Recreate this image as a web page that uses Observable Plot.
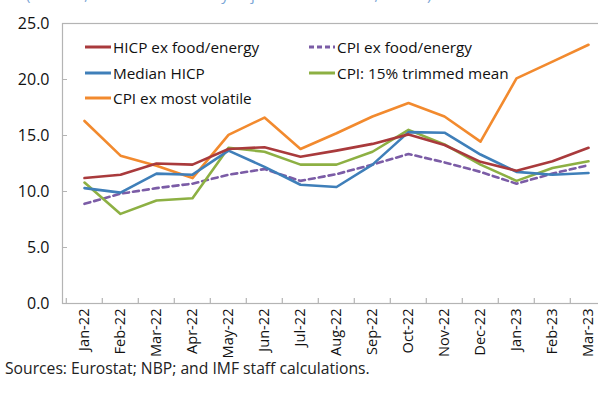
<!DOCTYPE html>
<html>
<head>
<meta charset="utf-8">
<script src="https://cdn.jsdelivr.net/npm/d3@7"></script>
<script src="https://cdn.jsdelivr.net/npm/@observablehq/plot@0.6"></script>
<style>
  html, body { margin: 0; padding: 0; background: #fff; overflow: hidden; width: 598px; height: 403px; }
  body { font-family: "Open Sans", "Noto Sans", sans-serif; }
  #wrap { position: relative; width: 598px; height: 403px; overflow: hidden; }
  #subtitle { position: absolute; left: 26px; top: -16px; font-size: 15px; color: #7aa6d6; white-space: nowrap; }
  #chart { position: absolute; left: 0; top: 0; width: 598px; height: 370px; overflow: hidden; }
  #chart svg { max-width: none !important; height: 356px !important; overflow: visible; }
  #legend { position: absolute; left: 0; top: 0; font-size: 15.3px; color: #111; }
  .item { position: absolute; white-space: nowrap; display: flex; align-items: center; height: 20px; }
  .item svg { margin-right: 2px; }
  #caption { position: absolute; left: 5px; top: 358px; font-size: 15.7px; line-height: 21px; color: #222; white-space: nowrap; }
</style>
</head>
<body>
<div id="wrap">
<div id="subtitle">(Percent; 3-month seasonally-adjusted annualized; 3mma)</div>
<div id="chart"></div>
<div id="legend"></div>
<div id="caption">Sources: Eurostat; NBP; and IMF staff calculations.</div>
</div>
<script>
const months = ["Jan-22","Feb-22","Mar-22","Apr-22","May-22","Jun-22","Jul-22","Aug-22","Sep-22","Oct-22","Nov-22","Dec-22","Jan-23","Feb-23","Mar-23"];
const hicpExFoodEnergy = [11.2, 11.5, 12.5, 12.4, 13.8, 13.95, 13.1, 13.65, 14.25, 15.1, 14.15, 12.65, 11.85, 12.7, 13.9];
const cpiExFoodEnergy  = [8.9, 9.8, 10.3, 10.7, 11.5, 12.0, 10.95, 11.55, 12.4, 13.35, 12.6, 11.75, 10.7, 11.6, 12.35];
const medianHicp       = [10.3, 9.9, 11.6, 11.5, 13.65, 12.2, 10.6, 10.4, 12.4, 15.3, 15.25, 13.3, 11.75, 11.5, 11.65];
const cpiTrimmedMean   = [10.8, 8.0, 9.2, 9.4, 13.9, 13.55, 12.4, 12.4, 13.55, 15.5, 14.2, 12.4, 10.95, 12.1, 12.7];
const cpiExMostVolatile= [16.3, 13.2, 12.3, 11.2, 15.05, 16.6, 13.8, 15.2, 16.7, 17.9, 16.7, 14.45, 20.1, 21.6, 23.1];
const targetLevel = [2.5];
const toleranceBand = [1.5, 3.5];
const yTicks = [0, 5, 10, 15, 20, 25];

const series = [
  {name: "HICP ex food/energy", values: hicpExFoodEnergy, color: "#a93a3c", dash: null},
  {name: "CPI ex food/energy", values: cpiExFoodEnergy, color: "#7b5ca6", dash: "6,4"},
  {name: "Median HICP", values: medianHicp, color: "#3f7fb9", dash: null},
  {name: "CPI: 15% trimmed mean", values: cpiTrimmedMean, color: "#8db043", dash: null},
  {name: "CPI ex most volatile", values: cpiExMostVolatile, color: "#f28a2e", dash: null}
];
const drawOrder = [4, 1, 3, 2, 0];

const axisColor = "#b4b4b4";
const lineMarks = drawOrder.map(i => {
  const s = series[i];
  const rows = months.map((m, j) => ({month: m, value: s.values[j]}));
  return Plot.line(rows, {x: "month", y: "value", stroke: s.color, strokeWidth: 2.6, strokeDasharray: s.dash, strokeLinejoin: "round"});
});

const chart = Plot.plot({
  width: 609,
  height: 356,
  marginLeft: 62,
  marginRight: 0,
  marginTop: 23,
  marginBottom: 53,
  style: {fontFamily: "'Open Sans', 'Noto Sans', sans-serif", fontSize: "15px", color: "#111", background: "transparent", overflow: "visible"},
  x: {type: "point", domain: months, padding: 0.5, label: null},
  y: {domain: [0, 25], label: null},
  marks: [
    Plot.ruleY(toleranceBand, {y: d => d, x1: months[0], x2: months[months.length - 1], stroke: "#8a8a8a", strokeWidth: 1, strokeDasharray: "3,2"}),
    Plot.ruleY(targetLevel, {y: d => d, x1: months[0], x2: months[months.length - 1], stroke: "#7a7a7a", strokeWidth: 1}),
    Plot.frame({stroke: axisColor, strokeWidth: 1.2}),
    Plot.ruleX(months, {x: d => d, dx: -18.2, y1: 0, y2: 0.45, stroke: axisColor, strokeWidth: 1.2}),
    Plot.axisY(yTicks.slice(1, -1), {tickSize: 5, dx: 5, tickFormat: () => "", label: null, stroke: axisColor}),
    Plot.axisY(yTicks, {tickSize: 0, tickPadding: 13, tickFormat: d => d.toFixed(1), label: null, fill: "#111", fontSize: 16}),
    Plot.axisX(months, {tickSize: 0, tickPadding: 5, tickRotate: -90, label: null, fill: "#111", fontSize: 14.6}),
    ...lineMarks
  ]
});
chart.style.maxWidth = "none";
document.getElementById("chart").appendChild(chart);

const legend = document.getElementById("legend");
const positions = [
  {x: 85, y: 37}, {x: 309, y: 37},
  {x: 85, y: 63}, {x: 309, y: 63},
  {x: 85, y: 88}
];
series.forEach((s, i) => {
  const div = document.createElement("div");
  div.className = "item";
  div.style.left = positions[i].x + "px";
  div.style.top = positions[i].y + "px";
  const dash = s.dash ? ` stroke-dasharray="5,3"` : "";
  div.innerHTML = `<svg width="26" height="6"><line x1="0" x2="26" y1="3" y2="3" stroke="${s.color}" stroke-width="3"${dash}/></svg><span>${s.name}</span>`;
  legend.appendChild(div);
});
</script>
</body>
</html>
